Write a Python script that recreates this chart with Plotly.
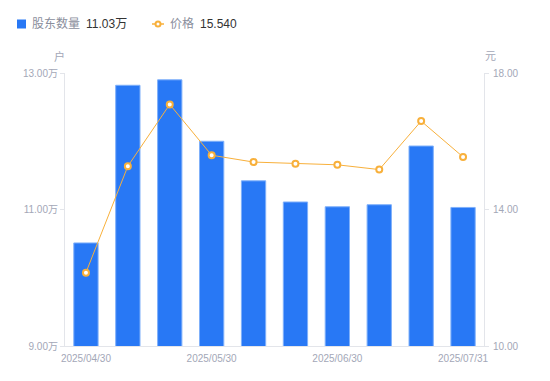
import plotly.graph_objects as go

dates = ["2025/04/30", "2025/05/10", "2025/05/20", "2025/05/30", "2025/06/10",
         "2025/06/20", "2025/06/30", "2025/07/10", "2025/07/20", "2025/07/31"]
holders = [10.51, 12.82, 12.90, 12.00, 11.42, 11.11, 11.04, 11.07, 11.93, 11.03]
price = [12.15, 15.27, 17.08, 15.59, 15.39, 15.34, 15.31, 15.17, 16.59, 15.54]
x_ticks = ["2025/04/30", "2025/05/30", "2025/06/30", "2025/07/31"]
left_ticks = [9, 11, 13]
left_text = ["9.00万", "11.00万", "13.00万"]
right_ticks = [10, 14, 18]
right_text = ["10.00", "14.00", "18.00"]
legend_names = ["股东数量", "价格"]
legend_values = ["11.03万", "15.540"]

FONT = "Liberation Sans, Noto Sans CJK SC, sans-serif"
GRAY = "#a3a7b7"
AXIS = "#e3e5ea"
BLUE = "#2878f5"
ORANGE = "#f8b03b"

# page has an 8px body margin; plot area in page pixels: x 65..484, y 73..346
OFF = 8
W, H = 550 - OFF, 381 - OFF
PX0, PX1, PY0, PY1 = 65, 484, 73, 346
L, T = PX0 - OFF, PY0 - OFF
R, B = 550 - PX1, 381 - PY1
PW, PH = PX1 - PX0, PY1 - PY0


def px(x):
    return (x - PX0) / PW


def py(y):
    return (PY1 - y) / PH


fig = go.Figure()
fig.add_trace(go.Bar(
    x=dates, y=holders, name=legend_names[0],
    marker=dict(color=BLUE, line=dict(color="#7fb0fa", width=1)),
    yaxis="y", showlegend=False,
))
fig.add_trace(go.Scatter(
    x=dates, y=price, name=legend_names[1],
    mode="lines+markers",
    line=dict(color=ORANGE, width=1),
    marker=dict(symbol="circle", size=6, color="white", line=dict(color=ORANGE, width=2)),
    yaxis="y2", showlegend=False,
))

shapes = [
    dict(type="rect", xref="paper", yref="paper", x0=px(17), x1=px(26), y0=py(28.5), y1=py(19.5),
         fillcolor=BLUE, line=dict(width=0)),
    dict(type="line", xref="paper", yref="paper", x0=px(152), x1=px(164), y0=py(24), y1=py(24),
         line=dict(color=ORANGE, width=1.5)),
    dict(type="circle", xref="paper", yref="paper", x0=px(155.5), x1=px(160.5), y0=py(26.5), y1=py(21.5),
         fillcolor="white", line=dict(color=ORANGE, width=2)),
]

annotations = [
    dict(text=legend_names[0], xref="paper", yref="paper", x=px(30), y=py(24), showarrow=False,
         xanchor="left", yanchor="middle", font=dict(size=12, color="#8a8e9c")),
    dict(text=legend_values[0], xref="paper", yref="paper", x=px(84), y=py(24), showarrow=False,
         xanchor="left", yanchor="middle", font=dict(size=12, color="#333333")),
    dict(text=legend_names[1], xref="paper", yref="paper", x=px(168), y=py(24), showarrow=False,
         xanchor="left", yanchor="middle", font=dict(size=12, color="#8a8e9c")),
    dict(text=legend_values[1], xref="paper", yref="paper", x=px(198), y=py(24), showarrow=False,
         xanchor="left", yanchor="middle", font=dict(size=12, color="#333333")),
    dict(text="户", xref="paper", yref="paper", x=px(59), y=py(56), showarrow=False,
         xanchor="center", yanchor="middle", font=dict(size=11, color=GRAY)),
    dict(text="元", xref="paper", yref="paper", x=px(490), y=py(56), showarrow=False,
         xanchor="center", yanchor="middle", font=dict(size=11, color=GRAY)),
]

fig.update_layout(
    width=W, height=H,
    margin=dict(l=L, r=R, t=T, b=B, autoexpand=False),
    paper_bgcolor="white", plot_bgcolor="white",
    font=dict(family=FONT, size=10, color=GRAY),
    bargap=0.42,
    showlegend=False,
    xaxis=dict(type="category", range=[-0.5, 9.5], tickvals=x_ticks, ticktext=x_ticks,
               showline=True, linecolor=AXIS, linewidth=1, ticks="", showgrid=False,
               ticklabelstandoff=3,
               tickfont=dict(size=10, color=GRAY), zeroline=False, automargin=False),
    yaxis=dict(range=[9, 13], tickvals=left_ticks, ticktext=left_text, showgrid=False,
               showline=True, linecolor=AXIS, ticks="outside", ticklen=4, tickcolor=AXIS,
               tickfont=dict(size=10, color=GRAY), zeroline=False, automargin=False),
    yaxis2=dict(range=[10, 18], tickvals=right_ticks, ticktext=right_text, overlaying="y",
                side="right", showgrid=False, showline=True, linecolor=AXIS, ticks="outside",
                ticklen=4, tickcolor=AXIS, ticklabelstandoff=2,
                tickfont=dict(size=10, color=GRAY), zeroline=False, automargin=False),
    shapes=shapes,
    annotations=annotations,
)

fig.write_html("out.html")
